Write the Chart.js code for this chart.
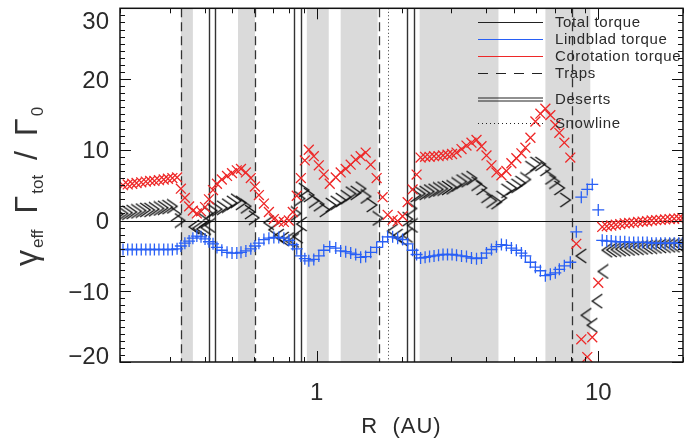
<!DOCTYPE html>
<html>
<head>
<meta charset="utf-8">
<script src="https://cdn.jsdelivr.net/npm/chart.js@4.4.1/dist/chart.umd.min.js"></script>
<style>
  html, body { margin: 0; padding: 0; background: #fff; }
</style>
</head>
<body>
<canvas id="torqueChart" width="694" height="438"></canvas>
<script>
// Radius grid (AU)
const radius = [
  0.205, 0.213, 0.221, 0.229, 0.238, 0.247, 0.256, 0.265, 0.275, 0.286, 0.296, 0.307, 0.319,
  0.329, 0.340, 0.352, 0.363, 0.375, 0.388, 0.401, 0.414, 0.428, 0.442,
  0.460, 0.480, 0.500, 0.520, 0.538, 0.560, 0.583, 0.603, 0.623, 0.649,
  0.676, 0.704, 0.733, 0.764, 0.796, 0.822, 0.849, 0.878, 0.907, 0.937,
  0.976, 1.017, 1.059, 1.112, 1.168, 1.216, 1.267, 1.320, 1.375, 1.432,
  1.492, 1.554, 1.632, 1.714, 1.786, 1.860, 1.938, 2.018, 2.103, 2.190,
  2.263, 2.338, 2.426, 2.516, 2.610, 2.708, 2.809, 2.914, 3.024, 3.137,
  3.268, 3.403, 3.545, 3.694, 3.848, 4.008, 4.175, 4.348, 4.529, 4.717,
  4.914, 5.118, 5.333, 5.510, 5.741, 5.980, 6.229, 6.488, 6.758, 7.039,
  7.273, 7.576, 7.956, 8.356, 8.704, 9.141, 9.521, 10.0,
  10.33, 10.72, 11.12, 11.54, 11.97, 12.42, 12.88, 13.36, 13.86, 14.38,
  14.92, 15.48, 16.06, 16.66, 17.28, 17.93, 18.60, 19.30, 19.9
];

// Corotation torque
const corotation = [
  5.0, 5.1, 5.2, 5.3, 5.4, 5.5, 5.6, 5.6, 5.7, 5.8, 5.9, 6.0, 6.1,
  4.5, 3.2, 2.0, 1.4, 1.0, 1.3, 1.9, 3.0, 4.3, 5.2,
  5.8, 6.3, 6.7, 7.1, 7.3, 6.8, 6.0, 4.8, 3.6, 2.4,
  1.2, 0.2, -0.2, -0.2, 0.0, 1.2, 3.5, 6.0, 8.5, 10.0,
  9.1, 7.8, 6.5, 5.2, 6.1, 6.8, 7.3, 7.9, 8.6, 9.1,
  9.6, 7.9, 6.0, 3.3, 0.8, 0.1, -0.1, 0.6, 2.6, 4.4,
  6.5, 8.9, 9.0, 9.0, 9.1, 9.1, 9.2, 9.3, 9.4, 9.6,
  10.1, 10.6, 11.0, 11.4, 10.5, 9.2, 7.8, 6.8, 6.4, 7.0,
  8.1, 8.8, 9.5, 10.3, 11.7, 14.0, 15.1, 15.8, 14.9, 13.5,
  12.4, 11.0, 8.9, -3.3, -16.8, -19.3, -16.5, -8.8,
  -0.9, -0.8, -0.7, -0.6, -0.5, -0.4, -0.35, -0.3, -0.2, -0.15,
  -0.1, 0.0, 0.05, 0.1, 0.15, 0.2, 0.25, 0.3, 0.35
];

// Lindblad torque
const lindblad = [
  -4.1, -4.1, -4.1, -4.1, -4.1, -4.1, -4.1, -4.1, -4.1, -4.1, -4.1, -4.1, -4.0,
  -3.6, -3.2, -2.9, -2.5, -2.2, -2.3, -2.6, -3.0, -3.3, -3.8,
  -4.2, -4.5, -4.6, -4.6, -4.5, -4.3, -4.0, -3.6, -3.2, -2.7,
  -2.5, -2.4, -2.4, -2.5, -2.8, -3.4, -4.0, -5.0, -5.4, -5.7,
  -5.5, -5.0, -4.2, -3.7, -3.9, -4.3, -4.4, -4.6, -4.8, -5.2,
  -5.1, -4.5, -3.8, -3.0, -2.3, -2.3, -2.5, -2.7, -3.3, -4.2,
  -4.8, -5.3, -5.2, -5.1, -5.0, -4.9, -4.8, -4.8, -4.8, -4.9,
  -5.0, -5.1, -5.3, -5.4, -5.3, -4.6, -4.1, -3.7, -3.4, -3.5,
  -3.9, -4.2, -4.6, -5.0, -5.9, -6.6, -7.1, -7.8, -7.6, -7.4,
  -6.9, -6.4, -5.9, -1.6, 3.3, 4.4, 5.1, 1.5,
  -2.8, -2.9, -2.9, -3.0, -3.0, -3.0, -3.1, -3.1, -3.1, -3.1,
  -3.1, -3.2, -3.2, -3.2, -3.2, -3.2, -3.2, -3.2, -3.2
];

// Total torque
const total = [
  0.9, 1.0, 1.1, 1.2, 1.3, 1.4, 1.5, 1.5, 1.6, 1.7, 1.8, 1.9, 2.0,
  0.9, 0.0, -0.9, -1.1, -1.2, -1.0, -0.7, 0.0, 1.0, 1.4,
  1.6, 1.8, 2.1, 2.5, 2.8, 2.5, 2.0, 1.2, 0.4, -0.3,
  -1.3, -2.2, -2.6, -2.7, -2.8, -2.2, -0.5, 1.0, 3.1, 4.3,
  3.6, 2.8, 2.3, 1.5, 2.2, 2.5, 2.9, 3.3, 3.8, 3.9,
  4.5, 3.4, 2.2, 0.3, -1.5, -2.2, -2.6, -2.1, -0.7, 0.2,
  1.7, 3.6, 3.8, 3.9, 4.1, 4.2, 4.4, 4.5, 4.6, 4.7,
  5.1, 5.5, 5.7, 6.0, 5.2, 4.6, 3.5, 2.8, 2.6, 3.2,
  4.2, 4.6, 4.9, 5.3, 5.8, 7.4, 8.0, 8.0, 7.3, 6.1,
  5.5, 4.6, 2.9, -5.0, -13.4, -14.8, -11.4, -7.2,
  -4.2, -4.15, -4.1, -4.05, -4.0, -3.95, -3.9, -3.85, -3.8, -3.75,
  -3.7, -3.65, -3.6, -3.55, -3.5, -3.5, -3.45, -3.45, -3.4
];

// Features (AU)
const trapR = [0.329, 0.603, 1.66, 8.09];
const desertR = [0.414, 0.435, 0.829, 0.878, 2.10, 2.21];
const snowlineR = [1.786];
const bandStart = [0.329, 0.525, 0.922, 1.216, 2.32, 6.49];
const bandEnd = [0.363, 0.603, 1.103, 1.645, 4.42, 9.37];

// Axis labels
const yTickValues = [-20, -10, 0, 10, 20, 30];
const xTickValues = [1, 10];
const legendLabels = ['Total torque', 'Lindblad torque', 'Corotation torque', 'Traps', 'Deserts', 'Snowline'];

const RED = 'rgb(238,40,40)';
const BLUE = 'rgb(40,95,245)';
const INK = '#2a2a2a';
const FONT = '"Liberation Sans", Arial, sans-serif';

// Arrow-head markers, tip at the data point
function makeChevron(dir) {
    const c = document.createElement('canvas');
    c.width = 22; c.height = 16;
    const g = c.getContext('2d');
    g.strokeStyle = '#111';
    g.lineWidth = 1.4;
    g.beginPath();
    if (dir > 0) { g.moveTo(1, 1); g.lineTo(11, 8); g.lineTo(1, 15); }
    else { g.moveTo(21, 1); g.lineTo(11, 8); g.lineTo(21, 15); }
    g.stroke();
    return c;
}
const chevRight = makeChevron(1);
const chevLeft = makeChevron(-1);

function toPoints(vals) {
    return radius.map((r, i) => ({ x: r, y: vals[i] }));
}

function vline(ctx, x, top, bottom) {
    ctx.beginPath();
    ctx.moveTo(x, top);
    ctx.lineTo(x, bottom);
    ctx.stroke();
}

const decorPlugin = {
    id: 'decor',
    beforeDatasetsDraw(chart) {
        const { ctx, chartArea: a, scales: { x, y } } = chart;
        ctx.save();
        ctx.beginPath();
        ctx.rect(a.left, a.top, a.right - a.left, a.bottom - a.top);
        ctx.clip();

        // grey bands
        ctx.fillStyle = 'rgb(218,218,218)';
        bandStart.forEach((s, i) => {
            const x0 = x.getPixelForValue(s), x1 = x.getPixelForValue(bandEnd[i]);
            ctx.fillRect(x0, a.top, x1 - x0, a.bottom - a.top);
        });

        // traps
        ctx.strokeStyle = '#333';
        ctx.lineWidth = 1.3;
        ctx.setLineDash([9, 5]);
        trapR.forEach(r => vline(ctx, Math.round(x.getPixelForValue(r)) + 0.5, a.top, a.bottom));

        // snowline
        ctx.setLineDash([1, 2.5]);
        ctx.lineWidth = 1;
        snowlineR.forEach(r => vline(ctx, Math.round(x.getPixelForValue(r)) + 0.5, a.top, a.bottom));

        // deserts
        ctx.setLineDash([]);
        ctx.lineWidth = 1.4;
        ctx.strokeStyle = '#333';
        desertR.forEach(r => vline(ctx, Math.round(x.getPixelForValue(r)) + 0.5, a.top, a.bottom));

        // zero line
        ctx.strokeStyle = '#111';
        ctx.lineWidth = 1;
        const y0 = Math.round(y.getPixelForValue(0)) + 0.5;
        ctx.beginPath();
        ctx.moveTo(a.left, y0);
        ctx.lineTo(a.right, y0);
        ctx.stroke();
        ctx.restore();
    },
    afterDatasetsDraw(chart) {
        const { ctx, chartArea: a, scales: { x, y } } = chart;
        ctx.save();

        // frame
        ctx.strokeStyle = '#111';
        ctx.lineWidth = 1.5;
        ctx.strokeRect(a.left, a.top, a.right - a.left, a.bottom - a.top);

        // y ticks (inward, both sides)
        ctx.lineWidth = 1;
        for (let v = -20; v <= 30; v++) {
            const py = Math.round(y.getPixelForValue(v)) + 0.5;
            const len = v % 10 === 0 ? 11 : 5;
            ctx.beginPath();
            ctx.moveTo(a.left, py); ctx.lineTo(a.left + len, py);
            ctx.moveTo(a.right, py); ctx.lineTo(a.right - len, py);
            ctx.stroke();
        }
        // x ticks (log, inward, top and bottom)
        [0.1, 1, 10].forEach(dec => {
            for (let k = 1; k <= 9; k++) {
                const v = k * dec;
                if (v < 0.2 - 1e-9 || v > 20 + 1e-9) continue;
                const px = Math.round(x.getPixelForValue(v)) + 0.5;
                const len = k === 1 ? 11 : 5;
                ctx.beginPath();
                ctx.moveTo(px, a.bottom); ctx.lineTo(px, a.bottom - len);
                ctx.moveTo(px, a.top); ctx.lineTo(px, a.top + len);
                ctx.stroke();
            }
        });

        // tick labels
        ctx.fillStyle = INK;
        ctx.font = '24px ' + FONT;
        ctx.textBaseline = 'alphabetic';
        ctx.textAlign = 'right';
        yTickValues.forEach(v => {
            let cy = y.getPixelForValue(v);
            cy = Math.min(Math.max(cy, a.top + 12), a.bottom - 7);
            ctx.fillText(String(v).replace('-', '\u2212'), a.left - 11, cy + 8.5);
        });
        ctx.textAlign = 'center';
        xTickValues.forEach(v => {
            ctx.fillText(String(v), x.getPixelForValue(v), a.bottom + 38);
        });

        // x title
        ctx.font = '22px ' + FONT;
        ctx.letterSpacing = '1px';
        ctx.fillText('R  (AU)', (a.left + a.right) / 2, a.bottom + 71);
        ctx.letterSpacing = '0px';

        // y title: gamma_eff Gamma_tot / Gamma_0
        ctx.save();
        ctx.translate(37, 266);
        ctx.rotate(-Math.PI / 2);
        ctx.textAlign = 'left';
        ctx.fillStyle = '#333';
        const big = '32px ' + FONT, small = '17px ' + FONT;
        const parts = [
            ['\u03b3', big, 0, 2], ['eff', small, 6, 16],
            ['\u0393', big, 0, 2], ['tot', small, 6, 15],
            ['/', big, 0, 15],
            ['\u0393', big, 0, 2], ['0', small, 6, 0]
        ];
        let tx = 0;
        parts.forEach(([t, f, dy, gap]) => {
            ctx.font = f;
            ctx.fillText(t, tx, dy);
            tx += ctx.measureText(t).width + gap;
        });
        ctx.restore();

        // legend
        const lx0 = a.right - 205, lx1 = a.right - 140, tx0 = a.right - 128;
        const rowsY = [a.top + 14, a.top + 31, a.top + 48, a.top + 65, a.top + 91, a.top + 115];
        ctx.font = '15px ' + FONT;
        ctx.letterSpacing = '0.6px';
        ctx.textBaseline = 'middle';
        ctx.textAlign = 'left';
        legendLabels.forEach((label, i) => {
            const ly = Math.round(rowsY[i]) + 0.5;
            ctx.lineWidth = 1.2;
            ctx.setLineDash([]);
            ctx.strokeStyle = i === 1 ? BLUE : i === 2 ? RED : '#222';
            if (i === 3) ctx.setLineDash([10, 8]);
            if (i === 5) { ctx.setLineDash([1, 3]); ctx.lineWidth = 1; }
            if (i === 4) {
                ctx.beginPath();
                ctx.moveTo(lx0, ly - 1.5); ctx.lineTo(lx1, ly - 1.5);
                ctx.moveTo(lx0, ly + 1.5); ctx.lineTo(lx1, ly + 1.5);
                ctx.stroke();
            } else {
                ctx.beginPath();
                ctx.moveTo(lx0, ly); ctx.lineTo(lx1, ly);
                ctx.stroke();
            }
            ctx.fillStyle = INK;
            ctx.fillText(label, tx0, ly);
        });
        ctx.restore();
    }
};

new Chart(document.getElementById('torqueChart'), {
    type: 'scatter',
    data: {
        datasets: [
            {
                label: 'Total torque',
                data: toPoints(total),
                pointStyle: ctx => (ctx.raw && ctx.raw.y < 0 ? chevLeft : chevRight),
                order: 3
            },
            {
                label: 'Lindblad torque',
                data: toPoints(lindblad),
                pointStyle: 'cross',
                pointRadius: 6,
                borderColor: BLUE,
                backgroundColor: BLUE,
                pointBorderWidth: 1.3,
                order: 2
            },
            {
                label: 'Corotation torque',
                data: toPoints(corotation),
                pointStyle: 'crossRot',
                pointRadius: 7,
                borderColor: RED,
                backgroundColor: RED,
                pointBorderWidth: 1.3,
                order: 1
            }
        ]
    },
    options: {
        responsive: false,
        animation: false,
        devicePixelRatio: 1,
        layout: { padding: { top: 3, right: 11, left: 0, bottom: 0 } },
        plugins: { legend: { display: false }, tooltip: { enabled: false } },
        scales: {
            x: {
                type: 'logarithmic', min: 0.2, max: 20,
                grid: { display: false }, border: { display: false },
                ticks: { display: false },
                afterFit: s => { s.height = 76; }
            },
            y: {
                min: -20, max: 30,
                grid: { display: false }, border: { display: false },
                ticks: { display: false },
                afterFit: s => { s.width = 120; }
            }
        }
    },
    plugins: [decorPlugin]
});
</script>
</body>
</html>
